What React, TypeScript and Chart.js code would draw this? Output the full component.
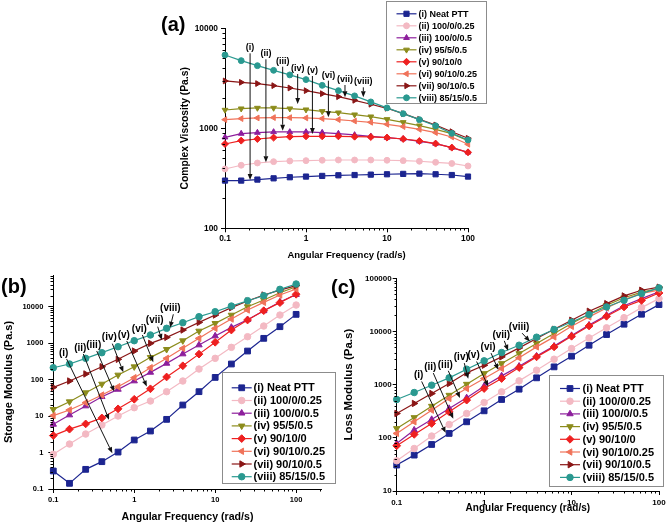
import React, { useEffect, useRef } from 'react';
import { Chart, registerables } from 'chart.js';
import { drawPoint } from 'chart.js/helpers';

Chart.register(...registerables);

const FONT = "'Liberation Sans', Arial, Helvetica, sans-serif";

// ---------- data ----------
const frequency = [0.1, 0.1585, 0.2512, 0.3981, 0.631, 1, 1.585, 2.512, 3.981, 6.31, 10, 15.85, 25.12, 39.81, 63.1, 100];

const seriesLabels = ['(i) Neat PTT', '(ii) 100/0/0.25', '(iii) 100/0/0.5', '(iv) 95/5/0.5', '(v) 90/10/0', '(vi) 90/10/0.25', '(vii) 90/10/0.5', '(viii) 85/15/0.5'];
const seriesColors = ['#1c2590', '#f3b9c3', '#8d1f9c', '#8c8c1c', '#ee2020', '#f0735a', '#8a1616', '#2a9990'];
const seriesMarkers = ['rect', 'circle', 'triangle', 'triangle', 'rectRot', 'triangle', 'triangle', 'circle'];
const markerRotations = [0, 0, 0, 180, 0, -90, 90, 0];
const markerSizes = [4, 3.2, 3.6, 3.6, 3.8, 3.6, 3.6, 3.2];

// (a) complex viscosity (Pa.s)
const complexViscosity = [
  [300, 300, 307, 316, 324, 329, 334, 339, 341, 344, 347, 350, 352, 347, 341, 329],
  [392, 427, 450, 464, 471, 475, 479, 482, 482, 482, 479, 475, 468, 457, 445, 420],
  [813, 885, 905, 919, 919, 919, 905, 885, 858, 832, 807, 782, 741, 703, 641, 575],
  [1525, 1573, 1597, 1597, 1573, 1537, 1479, 1434, 1370, 1308, 1230, 1148, 1063, 977, 885, 753],
  [697, 753, 782, 807, 825, 832, 832, 832, 825, 819, 807, 782, 747, 703, 641, 575],
  [1221, 1250, 1269, 1279, 1279, 1269, 1250, 1221, 1183, 1148, 1096, 1040, 977, 905, 819, 692],
  [2975, 2880, 2800, 2670, 2530, 2380, 2220, 2070, 1905, 1740, 1585, 1400, 1230, 1080, 925, 795],
  [5410, 4750, 4230, 3800, 3420, 3070, 2690, 2380, 2110, 1835, 1600, 1400, 1220, 1060, 890, 765],
];

// (b) storage modulus
const storageModulus = [
  [0.312, 0.143, 0.346, 0.562, 1.03, 2.21, 3.89, 8.13, 20.1, 46.7, 115, 268, 608, 1355, 2830, 6160],
  [0.893, 1.71, 3.22, 5.69, 10.05, 17, 25.9, 46.7, 91.6, 195, 383, 767, 1503, 2950, 5900, 11100],
  [5.93, 10.7, 18.9, 34, 54, 91.6, 158, 279, 504, 889, 1570, 2710, 4400, 7700, 13500, 21500],
  [15.3, 24.8, 43.9, 75.7, 134, 226, 408, 676, 1169, 2150, 3490, 5900, 10000, 15200, 24200, 35300],
  [2.92, 4.37, 6.1, 8.9, 15.8, 28.9, 56, 118, 240, 500, 1057, 2290, 4315, 7770, 12900, 21900],
  [10.3, 14.7, 23.3, 37.8, 64, 113, 212, 383, 720, 1355, 2550, 4590, 8110, 13150, 20900, 30500],
  [61.4, 91.6, 143, 226, 360, 608, 988, 1443, 2290, 3715, 5900, 9400, 14300, 20900, 28600, 37700],
  [212, 268, 383, 548, 800, 1169, 1675, 2550, 3640, 5320, 7290, 10400, 14600, 20000, 29900, 41900],
];

// (c) loss modulus
const lossModulus = [
  [30.7, 47.3, 75, 121, 200, 322, 526, 822, 1343, 2160, 3430, 5510, 8750, 13700, 21100, 32000],
  [37, 63, 108, 178, 287, 461, 733, 1178, 1870, 3010, 4775, 7570, 11700, 18200, 28100, 41500],
  [78, 140, 221, 356, 565, 935, 1462, 2220, 3450, 5300, 8400, 13200, 20200, 30500, 41500, 56000],
  [150, 241, 394, 634, 1021, 1620, 2500, 3850, 5930, 9140, 14100, 21100, 31100, 43100, 55000, 64000],
  [70.8, 116, 186, 308, 511, 845, 1303, 2100, 3330, 5130, 8130, 12700, 19300, 28900, 38400, 53000],
  [121, 200, 331, 550, 845, 1303, 2010, 3190, 5130, 7910, 12500, 18800, 27700, 39700, 52000, 60000],
  [287, 443, 681, 1050, 1667, 2320, 3330, 4910, 7360, 11000, 16300, 24000, 33400, 46600, 59600, 68000],
  [526, 711, 977, 1343, 1954, 2800, 4020, 5510, 7800, 10900, 15100, 20800, 28900, 38600, 51500, 66000],
];

const xTicksMain = [0.1, 1, 10, 100];
const yTicksA = [100, 1000, 10000];
const yTicksB = [0.1, 1, 10, 100, 1000, 10000];
const yTicksC = [10, 100, 1000, 10000, 100000];

// arrow annotations in data coordinates: [label, x1, y1, x2, y2]
const arrowsA: [string, number, number, number, number][] = [
  ['(i)', 0.204, 5620, 0.204, 304],
  ['(ii)', 0.32, 4898, 0.32, 457],
  ['(iii)', 0.515, 4130, 0.515, 946],
  ['(iv)', 0.789, 3490, 0.789, 1750],
  ['(v)', 1.2, 3335, 1.2, 877],
  ['(vi)', 1.89, 2993, 1.89, 1288],
  ['(vii)', 3.03, 2710, 3.03, 2042],
  ['(viii)', 5.1, 2570, 5.1, 2042],
];
const arrowsB: [string, number, number, number, number][] = [
  ['(i)', 0.146, 369, 0.536, 0.963],
  ['(ii)', 0.235, 506, 0.488, 7.87],
  ['(iii)', 0.344, 611, 0.567, 46.9],
  ['(iv)', 0.536, 969, 0.733, 160],
  ['(v)', 0.808, 1148, 1.43, 64.3],
  ['(vi)', 1.26, 1678, 1.72, 300],
  ['(vii)', 1.95, 2830, 2.19, 1225],
  ['(viii)', 3.04, 6190, 2.77, 2660],
];
const arrowsC: [string, number, number, number, number][] = [
  ['(i)', 0.193, 1148, 0.363, 124],
  ['(ii)', 0.262, 1651, 0.444, 229],
  ['(iii)', 0.389, 1824, 0.529, 561],
  ['(iv)', 0.593, 2541, 0.658, 1291],
  ['(v)', 0.82, 2723, 1.114, 925],
  ['(vi)', 1.2, 3917, 1.45, 1905],
  ['(vii)', 1.7, 6670, 1.88, 4325],
  ['(viii)', 2.72, 9290, 3.34, 6460],
];

// ---------- layout specs ----------
const W = 666;
const H = 523;

const panels = [
  {
    panelLabel: '(a)', labelPos: [161, 31],
    values: complexViscosity, xMax: 100, yMin: 100, yMax: 10000, yTicks: yTicksA,
    xTitle: 'Angular Frequency (rad/s)', yTitle: 'Complex Viscosity (Pa.s)',
    area: { left: 225, right: 468, top: 28.3, bottom: 228.3 }, yW: 46.2, xH: 32.4,
    tickFont: 8.4, xTitleFont: 9.5, yTitleFont: 10.3, xTickPad: 1, yTickPad: 3, yTickLen: 4, xTickLen: 4,
    legend: { x: 386, y: 1, w: 100, h: 102, row0: 13.8, rowH: 12, lineX1: 396.5, lineX2: 416.5, textX: 418.5, font: 9 },
    arrows: arrowsA, arrowFont: 9, arrowDx: 0, markerScale: 0.92,
  },
  {
    panelLabel: '(b)', labelPos: [1, 293],
    values: storageModulus, xMax: 207, yMin: 0.1, yMax: 74000, yTicks: yTicksB,
    xTitle: 'Angular Frequency (rad/s)', yTitle: 'Storage Modulus (Pa.s)',
    area: { left: 53.3, right: 321.7, top: 275, bottom: 489 }, yW: 50.6, xH: 34,
    tickFont: 7.5, xTitleFont: 10.6, yTitleFont: 11, xTickPad: 2, yTickPad: 5, yTickLen: 5, xTickLen: 4,
    legend: { x: 222, y: 372, w: 113, h: 111, row0: 387.8, rowH: 12.7, lineX1: 231.7, lineX2: 251.7, textX: 253.5, font: 11 },
    arrows: arrowsB, arrowFont: 10, arrowDx: -3, markerScale: 1.02,
  },
  {
    panelLabel: '(c)', labelPos: [331, 294],
    values: lossModulus, xMax: 100, yMin: 10, yMax: 100000, yTicks: yTicksC,
    xTitle: 'Angular Frequency (rad/s)', yTitle: 'Loss Modulus (Pa.s)',
    area: { left: 396.7, right: 659, top: 278.3, bottom: 491 }, yW: 54.3, xH: 23.3,
    tickFont: 8, xTitleFont: 10, yTitleFont: 11.5, xTickPad: 3, yTickPad: 1, yTickLen: 4, xTickLen: 4,
    legend: { x: 549, y: 375, w: 114, h: 111, row0: 388.5, rowH: 12.7, lineX1: 560, lineX2: 580, textX: 582.5, font: 11 },
    arrows: arrowsC, arrowFont: 10, arrowDx: -3, markerScale: 1.02,
  },
];

const decorPlugin = {
  id: 'decor',
  afterDraw(chart: any, _args: any, opts: any) {
    const ctx: CanvasRenderingContext2D = chart.ctx;
    const xs = chart.scales.x;
    const ys = chart.scales.y;
    ctx.save();

    // minor ticks
    ctx.strokeStyle = '#000';
    ctx.lineWidth = 1;
    const minorLen = 2.5;
    const drawMinor = (scale: any, horizontal: boolean) => {
      const lo = Math.floor(Math.log10(scale.min));
      const hi = Math.ceil(Math.log10(scale.max));
      for (let d = lo; d <= hi; d++) {
        for (let k = 2; k <= 9; k++) {
          const v = k * Math.pow(10, d);
          if (v < scale.min * 0.999 || v > scale.max * 1.001) continue;
          const p = Math.round(scale.getPixelForValue(v)) + 0.5;
          ctx.beginPath();
          if (horizontal) {
            const y0 = Math.round(xs.top);
            ctx.moveTo(p, y0);
            ctx.lineTo(p, y0 + minorLen);
          } else {
            const x0 = Math.round(ys.right);
            ctx.moveTo(x0, p);
            ctx.lineTo(x0 - minorLen, p);
          }
          ctx.stroke();
        }
      }
    };
    drawMinor(xs, true);
    drawMinor(ys, false);

    // arrows with labels
    ctx.font = `bold ${opts.arrowFont}px ${FONT}`;
    ctx.textAlign = 'center';
    ctx.textBaseline = 'bottom';
    for (const a of opts.arrows) {
      const [label, vx1, vy1, vx2, vy2] = a;
      const x1 = xs.getPixelForValue(vx1);
      const y1 = ys.getPixelForValue(vy1);
      const x2 = xs.getPixelForValue(vx2);
      const y2 = ys.getPixelForValue(vy2);
      const ang = Math.atan2(y2 - y1, x2 - x1);
      const hl = 6;
      const hw = 2.4;
      const bx = x2 - hl * Math.cos(ang);
      const by = y2 - hl * Math.sin(ang);
      ctx.strokeStyle = '#111';
      ctx.fillStyle = '#111';
      ctx.lineWidth = 1;
      ctx.beginPath();
      ctx.moveTo(x1, y1);
      ctx.lineTo(bx, by);
      ctx.stroke();
      ctx.beginPath();
      ctx.moveTo(x2, y2);
      ctx.lineTo(bx - hw * Math.sin(ang), by + hw * Math.cos(ang));
      ctx.lineTo(bx + hw * Math.sin(ang), by - hw * Math.cos(ang));
      ctx.closePath();
      ctx.fill();
      ctx.fillStyle = '#000';
      ctx.fillText(label, x1 + opts.arrowDx, y1 - 1);
    }

    // legend
    const L = opts.legend;
    ctx.fillStyle = '#fff';
    ctx.fillRect(L.x, L.y, L.w, L.h);
    ctx.strokeStyle = '#8c8c8c';
    ctx.lineWidth = 1;
    ctx.strokeRect(L.x + 0.5, L.y + 0.5, L.w, L.h);
    ctx.textAlign = 'left';
    ctx.textBaseline = 'middle';
    chart.data.datasets.forEach((ds: any, i: number) => {
      const y = L.row0 + i * L.rowH;
      ctx.strokeStyle = ds.borderColor;
      ctx.lineWidth = 1.2;
      ctx.beginPath();
      ctx.moveTo(L.lineX1, y);
      ctx.lineTo(L.lineX2, y);
      ctx.stroke();
      ctx.fillStyle = ds.backgroundColor;
      ctx.strokeStyle = ds.borderColor;
      ctx.lineWidth = 1;
      drawPoint(ctx, { pointStyle: ds.pointStyle, rotation: ds.pointRotation, radius: ds.pointRadius, borderWidth: 1 } as any, (L.lineX1 + L.lineX2) / 2, y);
      ctx.fillStyle = '#000';
      ctx.font = `bold ${L.font}px ${FONT}`;
      ctx.fillText(ds.label, L.textX, y + 0.5);
    });

    // panel label
    ctx.fillStyle = '#000';
    ctx.font = `bold 20px ${FONT}`;
    ctx.textAlign = 'left';
    ctx.textBaseline = 'alphabetic';
    ctx.fillText(opts.panelLabel, opts.labelPos[0], opts.labelPos[1]);

    ctx.restore();
  },
};

function makeConfig(p: any): any {
  const a = p.area;
  return {
    type: 'line',
    data: {
      datasets: p.values.map((vals: number[], i: number) => ({
        label: seriesLabels[i],
        data: frequency.map((f, j) => ({ x: f, y: vals[j] })),
        borderColor: seriesColors[i],
        backgroundColor: seriesColors[i],
        pointBackgroundColor: seriesColors[i],
        pointBorderColor: seriesColors[i],
        pointStyle: seriesMarkers[i],
        pointRotation: markerRotations[i],
        pointRadius: markerSizes[i] * p.markerScale,
        pointBorderWidth: 1,
        borderWidth: 1.2,
        tension: 0,
        clip: false,
        order: 7 - i,
      })),
    },
    options: {
      responsive: false,
      animation: false,
      events: [],
      layout: {
        autoPadding: false,
        padding: {
          left: a.left - p.yW,
          right: W - a.right,
          top: a.top,
          bottom: H - a.bottom - p.xH,
        },
      },
      plugins: {
        legend: { display: false },
        tooltip: { enabled: false },
        decor: {
          arrows: p.arrows, arrowFont: p.arrowFont, arrowDx: p.arrowDx,
          legend: p.legend, panelLabel: p.panelLabel, labelPos: p.labelPos,
        },
      },
      scales: {
        x: {
          type: 'logarithmic',
          position: 'bottom',
          min: 0.1,
          max: p.xMax,
          afterBuildTicks: (s: any) => { s.ticks = xTicksMain.map((v) => ({ value: v })); },
          afterFit: (s: any) => { s.height = p.xH; s.paddingLeft = 0; s.paddingRight = 0; },
          ticks: {
            autoSkip: false, maxRotation: 0, minRotation: 0, color: '#000',
            font: { family: FONT, size: p.tickFont, weight: 'bold' },
            padding: p.xTickPad,
            callback: (v: any) => String(v),
          },
          grid: { drawOnChartArea: false, drawTicks: true, tickLength: p.xTickLen, color: '#000', lineWidth: 1 },
          border: { display: true, color: '#000', width: 1 },
          title: { display: true, text: p.xTitle, color: '#000', font: { family: FONT, size: p.xTitleFont, weight: 'bold' }, padding: 0 },
        },
        y: {
          type: 'logarithmic',
          position: 'left',
          min: p.yMin,
          max: p.yMax,
          afterBuildTicks: (s: any) => { s.ticks = p.yTicks.map((v: number) => ({ value: v })); },
          afterFit: (s: any) => { s.width = p.yW; s.paddingTop = 0; s.paddingBottom = 0; },
          ticks: {
            autoSkip: false, color: '#000',
            font: { family: FONT, size: p.tickFont, weight: 'bold' },
            padding: p.yTickPad,
            callback: (v: any) => String(v),
          },
          grid: { drawOnChartArea: false, drawTicks: true, tickLength: p.yTickLen, color: '#000', lineWidth: 1 },
          border: { display: true, color: '#000', width: 1 },
          title: { display: true, text: p.yTitle, color: '#000', font: { family: FONT, size: p.yTitleFont, weight: 'bold' }, padding: 0 },
        },
      },
    },
    plugins: [decorPlugin],
  };
}

export default function App() {
  const refA = useRef<HTMLCanvasElement | null>(null);
  const refB = useRef<HTMLCanvasElement | null>(null);
  const refC = useRef<HTMLCanvasElement | null>(null);

  useEffect(() => {
    const canvases = [refA.current, refB.current, refC.current];
    const charts = canvases.map((c, i) => new Chart(c as HTMLCanvasElement, makeConfig(panels[i])));
    return () => charts.forEach((ch) => ch.destroy());
  }, []);

  const style: React.CSSProperties = { position: 'absolute', left: 0, top: 0, width: W, height: H };
  return (
    <div style={{ position: 'fixed', left: 0, top: 0, width: W, height: H, background: '#fff' }}>
      <canvas ref={refA} width={W} height={H} style={style} />
      <canvas ref={refB} width={W} height={H} style={style} />
      <canvas ref={refC} width={W} height={H} style={style} />
    </div>
  );
}
